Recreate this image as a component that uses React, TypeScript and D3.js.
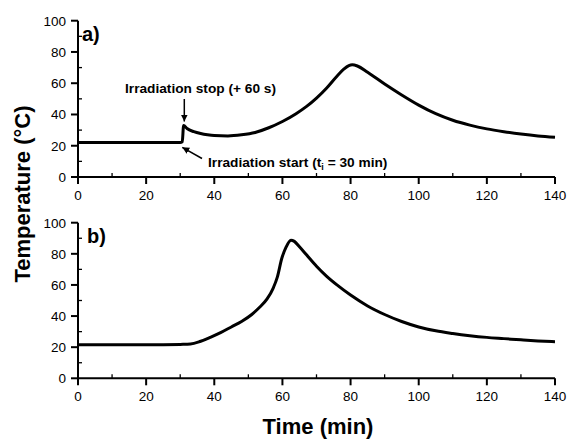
import React from "react";
import * as d3 from "d3";

const timeA = [0, 5, 10, 15, 20, 25, 30, 30.6, 31, 32, 34, 36, 38, 40, 44, 48, 52, 56, 60, 64, 67, 70, 73, 76, 78, 79.5, 80.5, 82, 85, 90, 95, 100, 105, 110, 115, 120, 125, 130, 135, 140];
const tempA = [22, 22, 22, 22, 22, 22, 22, 22.5, 33, 31, 29, 27.8, 27, 26.5, 26.3, 27, 28.5, 31.5, 35.5, 40.5, 45, 50.5, 57, 64.5, 69, 71.3, 71.8, 71, 67, 59.5, 52.5, 46, 40.5, 36.3, 33.2, 30.8, 29, 27.5, 26.3, 25.5];

const timeB = [0, 5, 10, 15, 20, 25, 30, 33, 36, 39, 42, 45, 48, 51, 53, 55.5, 57.3, 58.5, 59.8, 61, 62.5, 63.5, 65, 67, 70, 73, 76, 80, 85, 90, 95, 100, 105, 110, 115, 120, 125, 130, 135, 140];
const tempB = [21.5, 21.5, 21.5, 21.5, 21.5, 21.6, 21.8, 22, 23.8, 26.5, 29.5, 33, 36.5, 41, 45, 51, 58, 65, 77, 84, 88.8, 88, 84.5, 79.5, 72, 65.5, 60, 53.5, 46.5, 41, 36.5, 33, 30.5, 28.8, 27.4, 26.3, 25.5, 24.7, 24, 23.5];

const xTicks = [0, 20, 40, 60, 80, 100, 120, 140];
const xMinor = [10, 30, 50, 70, 90, 110, 130];
const yTicks = [0, 20, 40, 60, 80, 100];
const yMinor = [10, 30, 50, 70, 90];

const x = d3.scaleLinear().domain([0, 140]).range([78, 555]);
const yA = d3.scaleLinear().domain([0, 100]).range([177, 20.7]);
const yB = d3.scaleLinear().domain([0, 100]).range([378.3, 222.7]);

function Panel({ y, times, temps, label, labelX, labelY }: any) {
  const pts = times.map((t: number, i: number) => [t, temps[i]] as [number, number]);
  const line = d3
    .line<[number, number]>()
    .x((d) => x(d[0]))
    .y((d) => y(d[1]))
    .curve(d3.curveMonotoneX);
  const y0 = y(0);
  const x0 = x(0);
  return (
    <g>
      <line x1={x0} x2={x(140)} y1={y0} y2={y0} stroke="#000" strokeWidth={2} />
      <line x1={x0} x2={x0} y1={y0} y2={y(100)} stroke="#000" strokeWidth={2} />
      {xTicks.map((t) => (
        <g key={"xt" + t}>
          <line x1={x(t)} x2={x(t)} y1={y0} y2={y0 + 7} stroke="#000" strokeWidth={2} />
          <text x={x(t)} y={y0 + 23} textAnchor="middle" fontFamily="Liberation Sans, Arial, sans-serif" fontSize={13.5}>
            {t}
          </text>
        </g>
      ))}
      {xMinor.map((t) => (
        <line key={"xm" + t} x1={x(t)} x2={x(t)} y1={y0} y2={y0 - 4} stroke="#000" strokeWidth={1.3} />
      ))}
      {yTicks.map((v) => (
        <g key={"yt" + v}>
          <line x1={x0 - 7} x2={x0} y1={y(v)} y2={y(v)} stroke="#000" strokeWidth={2} />
          <text x={x0 - 12} y={y(v) + 4.8} textAnchor="end" fontFamily="Liberation Sans, Arial, sans-serif" fontSize={13.5}>
            {v}
          </text>
        </g>
      ))}
      {yMinor.map((v) => (
        <line key={"ym" + v} x1={x0} x2={x0 + 4} y1={y(v)} y2={y(v)} stroke="#000" strokeWidth={1.3} />
      ))}
      <path d={line(pts) || ""} fill="none" stroke="#000" strokeWidth={3} strokeLinejoin="round" />
      <text x={labelX} y={labelY} fontFamily="Liberation Sans, Arial, sans-serif" fontWeight="bold" fontSize={20}>
        {label}
      </text>
    </g>
  );
}

export default function App() {
  const font = "Liberation Sans, Arial, sans-serif";
  return (
    <svg width={569} height={439} style={{ position: "absolute", left: 0, top: 0, background: "#fff" }}>
      <defs>
        <marker id="ah" viewBox="0 0 10 10" refX="10" refY="5" markerWidth="7" markerHeight="7" orient="auto-start-reverse" markerUnits="userSpaceOnUse">
          <path d="M0,0 L10,5 L0,10 z" fill="#000" />
        </marker>
      </defs>
      <rect x={0} y={0} width={569} height={439} fill="#fff" />
      <Panel y={yA} times={timeA} temps={tempA} label="a)" labelX={82} labelY={41} />
      <Panel y={yB} times={timeB} temps={tempB} label="b)" labelX={87} labelY={243} />

      <text x={125} y={93} fontFamily={font} fontWeight="bold" fontSize={13.7}>
        Irradiation stop (+ 60 s)
      </text>
      <line x1={x(31.2)} x2={x(31.2)} y1={99} y2={yA(35.5)} stroke="#000" strokeWidth={1.5} markerEnd="url(#ah)" />
      <text x={208} y={167} fontFamily={font} fontWeight="bold" fontSize={13.7}>
        Irradiation start (t
        <tspan fontSize={9} dy={3}>i</tspan>
        <tspan dy={-3}> = 30 min)</tspan>
      </text>
      <line x1={202} x2={x(30.6)} y1={158.5} y2={yA(19)} stroke="#000" strokeWidth={1.5} markerEnd="url(#ah)" />

      <text x={318} y={434} textAnchor="middle" fontFamily={font} fontWeight="bold" fontSize={22}>
        Time (min)
      </text>
      <text transform="translate(30,194) rotate(-90)" textAnchor="middle" fontFamily={font} fontWeight="bold" fontSize={22}>
        Temperature (°C)
      </text>
    </svg>
  );
}
